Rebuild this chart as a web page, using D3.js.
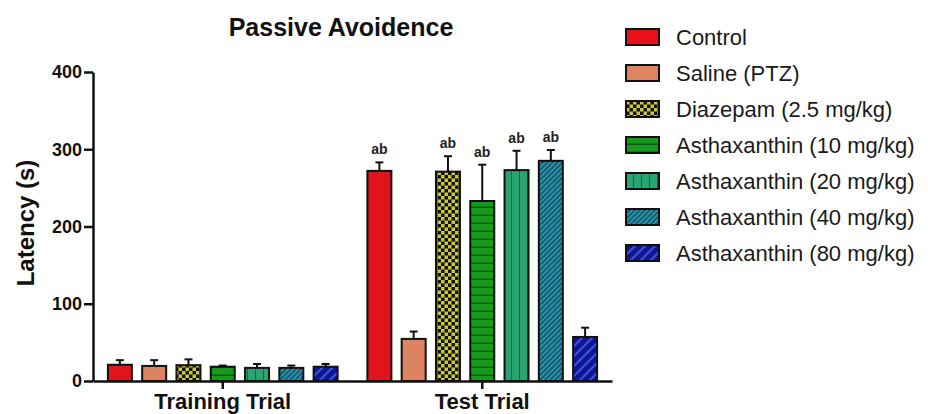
<!DOCTYPE html>
<html><head><meta charset="utf-8">
<script src="https://cdn.jsdelivr.net/npm/d3@7"></script>
<style>body{margin:0;background:#fff}svg{display:block}text{font-family:"Liberation Sans",Arial,sans-serif}</style>
</head><body><svg id="c" width="928" height="414"></svg>
<script>
const groups = ["Training Trial", "Test Trial"];
const series = ["Control", "Saline (PTZ)", "Diazepam (2.5 mg/kg)", "Asthaxanthin (10 mg/kg)", "Asthaxanthin (20 mg/kg)", "Asthaxanthin (40 mg/kg)", "Asthaxanthin (80 mg/kg)"];
const trainingMeans = [21, 19.5, 20.5, 18.5, 17, 17, 18.5];
const trainingErr = [6, 7.5, 7.5, 1.5, 5, 3, 3.5];
const testMeans = [272, 54.5, 271, 233, 273, 285, 57];
const testErr = [11, 9.5, 20, 47, 25, 14, 12];
const testLabels = ["ab", "", "ab", "ab", "ab", "ab", ""];
const yTicks = [0, 100, 200, 300, 400];

const svg = d3.select("#c");
const defs = svg.append("defs");
function pat(id, w, h, bg, draw) {
  const p = defs.append("pattern").attr("id", id).attr("patternUnits", "userSpaceOnUse").attr("width", w).attr("height", h);
  p.append("rect").attr("width", w).attr("height", h).attr("fill", bg);
  draw(p);
}
pat("p0", 4, 4, "#e8121a", p => p.append("rect").attr("x",0).attr("y",0).attr("width",1).attr("height",1).attr("fill","#c80d14"));
pat("p1", 4, 4, "#e28a68", p => { p.append("path").attr("d","M0,0L4,4M4,0L0,4").attr("stroke","#cf7656").attr("stroke-width",0.6); });
pat("p2", 7, 7, "#111", p => { p.append("rect").attr("x",0).attr("y",0).attr("width",3.5).attr("height",3.5).attr("fill","#c9c93a"); p.append("rect").attr("x",3.5).attr("y",3.5).attr("width",3.5).attr("height",3.5).attr("fill","#c9c93a"); });
pat("p3", 8, 8, "#169a1c", p => p.append("rect").attr("x",0).attr("y",6.5).attr("width",8).attr("height",1.5).attr("fill","#0b5a10"));
pat("p4", 8, 8, "#2aa472", p => p.append("rect").attr("x",7).attr("y",0).attr("width",1.2).attr("height",8).attr("fill","#116a44"));
pat("p5", 5, 5, "#2a8ea6", p => p.append("path").attr("d","M-1,6L6,-1M-1,1L1,-1M4,6L6,4").attr("stroke","#0f4e60").attr("stroke-width",1.3));
pat("p6", 10, 10, "#111590", p => p.append("path").attr("d","M-2,12L12,-2M-2,2L2,-2M8,12L12,8").attr("stroke","#3a52d8").attr("stroke-width",2.2));
const fills = series.map((s, i) => `url(#p${i})`);

const x0 = d3.scaleBand().domain(groups).range([93, 612]);
const x1 = d3.scaleBand().domain(series).range([-120, 120]).paddingInner(0.3).paddingOuter(0.15);
const y = d3.scaleLinear().domain([0, 400]).range([381, 72]);

const data = [];
groups.forEach((g, gi) => series.forEach((s, si) => {
  data.push({g, s, si, v: gi === 0 ? trainingMeans[si] : testMeans[si], e: gi === 0 ? trainingErr[si] : testErr[si], lab: gi === 0 ? "" : testLabels[si]});
}));
const bx = d => x0(d.g) + x0.bandwidth() / 2 + x1(d.s);

// error bars
const eb = svg.append("g").attr("stroke", "#111").attr("stroke-width", 2);
data.forEach(d => {
  const cx = bx(d) + x1.bandwidth() / 2;
  eb.append("line").attr("x1", cx).attr("x2", cx).attr("y1", y(d.v)).attr("y2", y(d.v + d.e));
  eb.append("line").attr("x1", cx - 4).attr("x2", cx + 4).attr("y1", y(d.v + d.e)).attr("y2", y(d.v + d.e));
});
svg.append("g").selectAll("rect").data(data).join("rect")
  .attr("x", bx).attr("y", d => y(d.v)).attr("width", x1.bandwidth()).attr("height", d => y(0) - y(d.v))
  .attr("fill", d => fills[d.si]).attr("stroke", "#111").attr("stroke-width", 2);
svg.append("g").selectAll("text").data(data.filter(d => d.lab)).join("text")
  .attr("x", d => bx(d) + x1.bandwidth() / 2).attr("y", d => y(d.v + d.e) - 8)
  .attr("text-anchor", "middle").attr("font-size", 14).attr("font-weight", "bold").attr("fill", "#222").text(d => d.lab);

// axes
const ya = svg.append("g").attr("transform", "translate(93,0)").call(d3.axisLeft(y).tickValues(yTicks).tickSize(9).tickSizeOuter(0).tickPadding(2));
ya.select(".domain").attr("stroke", "#111").attr("stroke-width", 2.5);
ya.selectAll(".tick line").attr("stroke", "#111").attr("stroke-width", 2.5);
ya.selectAll(".tick text").attr("font-size", 18).attr("font-weight", "bold").attr("fill", "#111").attr("font-family", "Liberation Sans, Arial, sans-serif");
const xa = svg.append("g").attr("transform", "translate(0,381)").call(d3.axisBottom(x0).tickSize(8).tickSizeOuter(0).tickPadding(4));
xa.select(".domain").attr("stroke", "#111").attr("stroke-width", 2.5);
xa.selectAll(".tick line").attr("stroke", "#111").attr("stroke-width", 2.5);
xa.selectAll(".tick text").attr("font-size", 22).attr("font-weight", "bold").attr("fill", "#111").attr("font-family", "Liberation Sans, Arial, sans-serif");

svg.append("text").attr("x", 341).attr("y", 36).attr("text-anchor", "middle").attr("font-size", 25).attr("font-weight", "bold").attr("fill", "#111").text("Passive Avoidence");
svg.append("text").attr("transform", "translate(34,223) rotate(-90)").attr("text-anchor", "middle").attr("font-size", 24).attr("font-weight", "bold").attr("fill", "#111").text("Latency (s)");

// legend
const lg = svg.append("g").selectAll("g").data(series).join("g").attr("transform", (d, i) => `translate(626,${29 + i * 36})`);
lg.append("rect").attr("width", 33).attr("height", 16).attr("fill", (d, i) => fills[i]).attr("stroke", "#111").attr("stroke-width", 2);
lg.append("text").attr("x", 50).attr("y", 16).attr("font-size", 22).attr("fill", "#1a1a1a").text(d => d);
</script></body></html>
